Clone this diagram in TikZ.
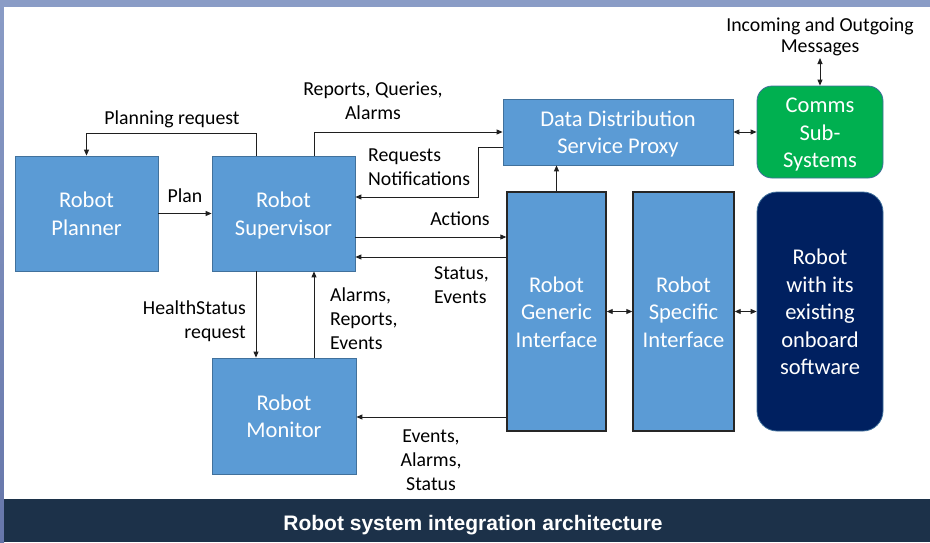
\documentclass[tikz,border=0pt]{standalone}
\usepackage{fontspec}
\setmainfont{Carlito}
\newfontfamily\titlefont{Liberation Sans}
\usetikzlibrary{arrows.meta}

\definecolor{boxblue}{HTML}{5B9BD5}
\definecolor{boxedge}{HTML}{41719C}
\definecolor{commsgreen}{HTML}{00B050}
\definecolor{robotnavy}{HTML}{002060}
\definecolor{framegray}{HTML}{8A9CC6}
\definecolor{framedark}{HTML}{6676AA}
\definecolor{barnavy}{HTML}{1C3149}

% fixed ascent of the first line and descent of the last line of a block text
\newcommand\firstlinestrut{\rule{0pt}{21.4pt}}
\newcommand\lastlinestrut{\rule[-4.95pt]{0pt}{4.95pt}}

\begin{document}
\begin{tikzpicture}[x=1pt,y=-1pt,
  blk/.style={draw=boxedge, line width=0.8pt, fill=boxblue, text=white,
    font=\fontsize{22.5}{27.5}\selectfont, align=center, inner sep=0pt,
    execute at end node=\lastlinestrut},
  iface/.style={blk, draw=black!85, line width=1.4pt},
  rblk/.style={blk, rounded corners=#1},
  lbl/.style={font=\fontsize{19.8}{24}\selectfont, inner sep=0pt, text=black},
  tip/.tip={Triangle[length=6pt,width=5pt]},
  arr/.style={-tip, line width=0.9pt, draw=black!88},
  dbl/.style={tip-tip, line width=0.9pt, draw=black!88}
]
% slide frame and caption bar
\useasboundingbox (0,0) rectangle (930,542);
\fill[framegray] (0,0) rectangle (930,542);
\shade[top color=framegray, bottom color=framedark] (0,0) rectangle (4,542);
\fill[white] (4,7) rectangle (930,499);
\fill[barnavy] (4,499) rectangle (930,542);
\node[font=\titlefont\bfseries\fontsize{21}{25}\selectfont, text=white, anchor=base, inner sep=0pt]
  (title) at (473,530) {Robot system integration architecture};

% blocks
\node[blk, minimum width=143pt, minimum height=115pt] (planner) at (86.5,213.5)
  {\firstlinestrut Robot\\Planner};
\node[blk, minimum width=143pt, minimum height=115pt] (supervisor) at (283.5,213.5)
  {\firstlinestrut Robot\\Supervisor};
\node[blk, minimum width=144pt, minimum height=116pt] (monitor) at (284,416)
  {\firstlinestrut Robot\\Monitor};
\node[blk, minimum width=230pt, minimum height=66pt] (dds) at (618,132)
  {\firstlinestrut Data Distribution\\Service Proxy};
\node[iface, minimum width=99pt, minimum height=239pt] (generic) at (556.5,311.5)
  {\firstlinestrut Robot\\Generic\\Interface};
\node[iface, minimum width=101pt, minimum height=239pt] (specific) at (683.5,311.5)
  {\firstlinestrut Robot\\Specific\\Interface};
\node[rblk=20pt, fill=robotnavy, minimum width=126pt, minimum height=239pt] (onboard) at (820,311.5)
  {\firstlinestrut Robot\\with its\\existing\\onboard\\software};
\node[rblk=15pt, fill=commsgreen, minimum width=126pt, minimum height=92pt] (comms) at (820,132)
  {\firstlinestrut Comms\\Sub-\\Systems};

% labels
\node[lbl, anchor=base] (lplanreq) at (172,124) {Planning request};
\node[lbl, anchor=base] (lplan) at (185,202) {Plan};
\node[lbl, align=center] (lreports) at (373,101) {Reports, Queries,\\Alarms};
\node[lbl, align=left, anchor=west] (lrequests) at (368,167.5) {Requests\\Notifications};
\node[lbl, anchor=base] (lactions) at (460,225) {Actions};
\node[lbl, align=left, anchor=west] (lstatus) at (434,285.5) {Status,\\Events};
\node[lbl, align=right, anchor=east] (lhealth) at (246,321.5) {HealthStatus\\request};
\node[lbl, align=left, anchor=west] (lalarms) at (330,319) {Alarms,\\Reports,\\Events};
\node[lbl, align=center] (levents) at (431,460.5) {Events,\\Alarms,\\Status};
\node[lbl, align=center, font=\fontsize{19.8}{21}\selectfont] (lmsgs) at (820,36.5)
  {Incoming and Outgoing\\Messages};
\coordinate (msgend) at (820,58);

% connectors
\draw[arr] ([xshift=-27.5pt]supervisor.north) |- ([yshift=22pt]planner.north) -- (planner.north);
\draw[arr] (planner.east) -- (supervisor.west);
\draw[arr] ([xshift=30.5pt]supervisor.north) |- (dds.west);
\draw[arr] ([yshift=-15pt]dds.west) -- ++(-24,0) |- ([yshift=16.5pt]supervisor.east);
\draw[arr] ([yshift=-23.5pt]supervisor.east) -- ([yshift=74.5pt]generic.west);
\draw[arr] ([yshift=54.5pt]generic.west) -- ([yshift=-43.5pt]supervisor.east);
\draw[arr] (generic.north) -- (generic.north |- dds.south);
\draw[dbl] (generic.east) -- (specific.west);
\draw[dbl] (specific.east) -- (onboard.west);
\draw[dbl] (dds.east) -- (comms.west);
\draw[dbl] (comms.north) -- (msgend);
\draw[arr] ([xshift=-27.5pt]supervisor.south) -- ([xshift=-28pt]monitor.north);
\draw[arr] ([xshift=30pt]monitor.north) -- ([xshift=30.5pt]supervisor.south);
\draw[arr] ([yshift=-105.5pt]generic.west) -- ([yshift=-1pt]monitor.east);
\end{tikzpicture}
\end{document}
